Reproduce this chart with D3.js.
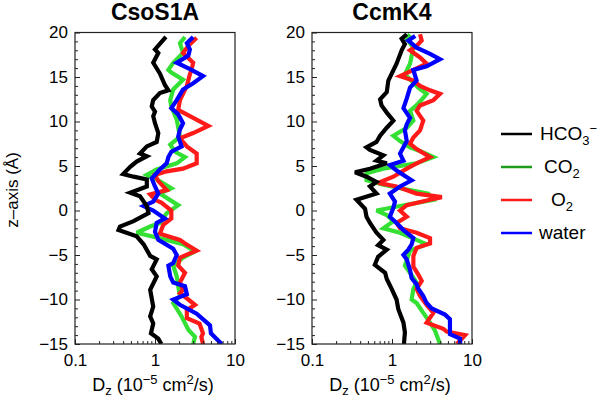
<!DOCTYPE html>
<html><head><meta charset="utf-8">
<script src="https://cdn.jsdelivr.net/npm/d3@7"></script>
<style>
html,body{margin:0;padding:0;background:#fff;}
svg{display:block;font-family:"Liberation Sans",Arial,Helvetica,sans-serif;}
</style></head>
<body>
<svg id="chart" width="600" height="402"></svg>
<script>
// ---------- data ----------
const panelTitles = ["CsoS1A", "CcmK4"];
const seriesNames = ["HCO3-", "CO2", "O2", "water"];
const xTickValues = [0.1, 1, 10];
const xTickLabels = ["0.1", "1", "10"];
const yTickValues = [-15, -10, -5, 0, 5, 10, 15, 20];

// CsoS1A
const csoHCO3_z = [19.5,18.1,17.7,17.0,16.6,15.4,14.1,13.5,13.2,12.4,11.7,11.1,10.6,9.8,8.7,7.7,7.2,6.4,6.1,5.5,4.9,4.1,3.8,3.5,2.7,2.0,1.6,0.5,-0.3,-1.2,-1.8,-2.2,-2.9,-3.8,-5.1,-5.5,-6.6,-7.4,-8.9,-10.8,-11.9,-12.7,-13.8,-14.4,-15];
const csoHCO3_D = [1.37,1.0,1.10,1.0,0.95,1.15,1.33,1.47,1.15,0.95,0.91,1.0,0.95,1.0,1.1,1.05,0.79,0.65,0.79,0.59,0.49,0.40,0.54,0.79,0.79,0.49,0.65,0.79,0.83,0.54,0.365,0.35,0.59,0.72,0.87,1.05,0.91,1.05,0.87,0.95,0.87,0.95,0.89,1.1,1.2];
const csoCO2_z = [19.5,18.8,17.7,16.6,15.8,15.5,14.7,13.6,12.4,11.7,10.2,8.3,7.4,6.6,6.0,5.3,4.6,4.0,3.4,2.5,1.9,0.6,-0.3,-1.4,-1.8,-2.5,-3.3,-3.8,-4.6,-5.3,-6.2,-7.4,-8.5,-9.6,-10.4,-11.9,-13.4,-14.2,-15];
const csoCO2_D = [2.37,2.05,2.24,1.69,1.47,1.6,2.24,1.69,1.55,1.6,1.87,2.05,1.55,1.78,2.37,1.87,1.05,0.79,1.1,1.6,1.15,1.95,1.40,1.15,0.87,0.59,1.4,2.24,3.16,2.24,1.69,1.87,1.95,2.05,1.69,2.15,2.61,3.16,3.0];
const csoO2_z = [19.4,18.5,17.7,16.6,15.8,15.3,14.0,12.4,11.3,10.6,9.5,8.7,8.1,7.2,6.4,5.3,4.7,4.4,4.0,3.3,2.3,1.8,1.2,0.9,0,-0.9,-1.6,-2.6,-3.3,-3.7,-4.5,-5.3,-6.2,-7.0,-8.1,-8.9,-9.3,-10.0,-10.6,-11.2,-12.1,-12.7,-13.8,-14.2,-15];
const csoO2_D = [3.32,2.61,2.24,3.0,2.86,2.73,2.5,2.05,1.95,2.73,4.64,3.0,2.05,2.5,3.32,3.32,2.24,1.4,1.0,1.1,1.4,0.87,1.0,1.2,1.6,1.6,1.27,1.15,2.05,2.37,3.32,2.05,1.95,2.37,2.05,2.24,2.05,2.61,3.16,2.5,2.5,3.6,3.98,3.8,3.98];
const csoWater_z = [19.5,18.8,18.1,17.4,16.6,15.8,15.1,14.3,13.6,12.4,11.5,10.8,9.8,9.1,8.3,7.2,6.6,6.0,5.3,4.6,3.6,2.7,1.9,1.0,0.5,0,-0.9,-1.4,-2.4,-3.3,-4.3,-5.0,-5.9,-6.2,-7.4,-8.1,-8.5,-9.4,-10.0,-10.6,-11.6,-12.9,-13.8,-15];
const csoWater_D = [3.0,2.5,2.73,2.61,1.87,2.86,3.98,3.0,2.24,1.87,1.6,1.95,2.24,2.05,1.95,2.15,1.6,1.47,1.40,1.15,0.91,1.0,1.1,0.95,0.72,0.95,1.33,1.05,1.0,1.1,1.69,1.87,1.69,1.47,1.55,1.69,2.37,2.5,1.69,2.05,3.32,4.87,5.0,6.8];

// CcmK4
const ccmHCO3_z = [19.8,19.3,18.7,18.0,16.5,14.6,13.3,12.5,11.8,11.0,10.1,9.3,8.4,7.7,7.1,6.8,6.2,5.6,5.3,4.7,4.3,3.8,3.2,2.7,1.9,1.2,0.2,-0.7,-1.4,-2.5,-3.3,-3.9,-4.4,-5.2,-6.1,-7.0,-7.7,-8.8,-10.0,-11.1,-12.6,-13.7,-15];
const ccmHCO3_D = [1.53,1.32,1.45,1.32,1.14,0.90,0.86,0.71,0.74,0.86,1.04,0.86,0.71,0.64,0.48,0.53,0.78,0.64,0.86,0.53,0.345,0.48,0.64,0.53,0.64,0.36,0.46,0.48,0.53,0.64,0.78,0.67,0.86,0.67,0.61,0.82,0.86,0.99,1.14,1.2,1.39,1.45,1.41];
const ccmCO2_z = [19.8,19.3,18.3,16.5,15.3,13.8,13.1,12.0,11.2,10.1,9.3,8.4,7.8,7.1,6.6,6.0,5.3,4.7,4.2,3.4,2.9,1.9,1.2,0.5,0,-0.5,-1.2,-2.0,-2.5,-3.3,-3.8,-4.5,-6.2,-7.0,-8.1,-8.8,-10.0,-10.4,-11.5,-12.6,-13.5,-15];
const ccmCO2_D = [1.68,1.53,1.85,1.68,1.45,2.13,2.71,2.13,1.68,1.85,1.53,1.04,1.26,1.68,2.35,3.29,2.03,0.78,0.48,0.48,0.78,2.84,3.29,1.26,0.64,0.86,1.04,0.78,1.26,2.03,2.71,1.68,1.45,1.68,2.03,1.85,1.76,2.03,2.46,2.99,3.45,3.98];
const ccmO2_z = [19.8,19.1,18.5,18.0,17.2,16.5,15.8,15.1,14.6,14.0,13.5,13.1,12.4,11.8,11.2,10.1,9.0,8.2,7.5,6.9,6.0,5.3,4.7,3.8,3.1,2.7,1.9,1.5,1.2,0.6,0,-0.7,-1.4,-2.0,-2.5,-3.1,-3.7,-4.2,-5.1,-6.3,-7.2,-7.9,-8.8,-9.6,-10.6,-11.5,-12.6,-13.3,-13.6,-14.0,-15];
const ccmO2_D = [2.24,2.35,2.03,1.68,2.24,2.71,1.85,1.26,1.85,2.24,2.99,3.98,3.29,2.24,2.03,2.46,2.24,1.85,1.68,2.03,2.99,2.03,1.53,1.04,0.67,1.14,2.03,4.2,2.99,1.53,1.26,1.53,1.14,1.26,2.03,2.99,2.99,2.03,1.85,1.85,2.13,2.35,2.03,2.24,2.71,3.29,2.71,4.38,4.82,8.2,6.5];
const ccmWater_z = [19.6,19.1,18.3,17.6,17.0,16.2,15.8,14.6,13.8,12.6,11.5,10.4,9.7,9.0,7.8,7.1,6.4,5.6,5.1,4.5,3.4,2.7,1.9,1.0,0.3,-0.7,-1.4,-2.2,-3.1,-3.8,-4.4,-5.0,-5.5,-6.7,-7.6,-8.3,-8.8,-9.6,-10.4,-11.0,-11.7,-12.2,-13.9,-14.4,-15];
const ccmWater_D = [1.95,1.6,2.03,2.99,3.98,2.71,1.85,2.03,1.68,1.53,1.39,1.68,1.53,1.45,1.53,1.39,1.26,1.39,0.94,1.14,1.76,1.26,0.94,1.09,1.04,0.94,1.14,1.39,1.85,1.76,1.6,1.39,1.53,1.68,1.76,2.03,2.13,2.46,2.71,3.14,4.6,5.3,5.3,7.1,7.1];

// ---------- drawing ----------
const lineColors = ["#000000", "#33e033", "#ff1a1a", "#0000ff"];
const legendColors = ["#000000", "#1b9a1b", "#ff1a1a", "#0000ff"];

const panels = [
  {title: panelTitles[0], x0: 75, series: [[csoHCO3_z, csoHCO3_D],[csoCO2_z, csoCO2_D],[csoO2_z, csoO2_D],[csoWater_z, csoWater_D]]},
  {title: panelTitles[1], x0: 312, series: [[ccmHCO3_z, ccmHCO3_D],[ccmCO2_z, ccmCO2_D],[ccmO2_z, ccmO2_D],[ccmWater_z, ccmWater_D]]}
];
const pw = 160, plotTop = 32.5, plotBottom = 344;
const svg = d3.select("#chart");

const y = d3.scaleLinear().domain([-15, 20]).range([plotBottom, plotTop]);
const minorX = [];
[0.1, 1].forEach(d => { for (let k = 2; k <= 9; k++) minorX.push(d * k); });
const minorY = d3.range(-15, 21, 1).filter(v => v % 5 !== 0);

panels.forEach(p => {
  const x = d3.scaleLog().domain([0.1, 10]).range([p.x0, p.x0 + pw]);
  const g = svg.append("g");

  const line = d3.line().x(d => x(d[1])).y(d => y(d[0])).curve(d3.curveLinear);
  const clipId = "clip" + p.x0;
  svg.append("clipPath").attr("id", clipId).append("rect")
    .attr("x", p.x0).attr("y", plotTop).attr("width", pw).attr("height", plotBottom - plotTop);
  [1, 2, 3, 0].forEach(i => {
    const [zs, ds] = p.series[i];
    const pts = zs.map((z, j) => [z, ds[j]]);
    g.append("path").attr("d", line(pts)).attr("fill", "none")
      .attr("stroke", lineColors[i]).attr("stroke-width", 4.2)
      .attr("stroke-linejoin", "miter").attr("stroke-miterlimit", 3)
      .attr("clip-path", `url(#${clipId})`);
  });

  // frame
  g.append("rect").attr("x", p.x0).attr("y", plotTop).attr("width", pw).attr("height", plotBottom - plotTop)
    .attr("fill", "none").attr("stroke", "#222").attr("stroke-width", 1.2);

  // y axis major
  const ya = g.append("g").attr("transform", `translate(${p.x0},0)`)
    .call(d3.axisLeft(y).tickValues(yTickValues).tickSize(-5).tickPadding(7).tickFormat(d3.format("d")));
  ya.select(".domain").remove();
  ya.selectAll("text").attr("font-size", 17).attr("fill", "#000").attr("font-family", "Liberation Sans, Arial, sans-serif");
  ya.selectAll("line").attr("stroke", "#222");
  const ym = g.append("g").attr("transform", `translate(${p.x0},0)`)
    .call(d3.axisLeft(y).tickValues(minorY).tickSize(-3).tickFormat(""));
  ym.select(".domain").remove();
  ym.selectAll("line").attr("stroke", "#222");

  // x axis major
  const xa = g.append("g").attr("transform", `translate(0,${plotBottom})`)
    .call(d3.axisBottom(x).tickValues(xTickValues).tickSize(-5).tickPadding(10)
      .tickFormat((d, i) => xTickLabels[i]));
  xa.select(".domain").remove();
  xa.selectAll("text").attr("font-size", 17).attr("fill", "#000").attr("font-family", "Liberation Sans, Arial, sans-serif");
  xa.selectAll("line").attr("stroke", "#222");
  const xm = g.append("g").attr("transform", `translate(0,${plotBottom})`)
    .call(d3.axisBottom(x).tickValues(minorX).tickSize(-3).tickFormat(""));
  xm.select(".domain").remove();
  xm.selectAll("line").attr("stroke", "#222");

  // title
  g.append("text").attr("x", p.x0 + pw / 2).attr("y", 20).attr("text-anchor", "middle")
    .attr("font-size", 23).attr("font-weight", "bold").text(p.title);

  // x label
  const xl = g.append("text").attr("x", p.x0 + pw / 2 - 2).attr("y", 391).attr("text-anchor", "middle")
    .attr("font-size", 18);
  xl.append("tspan").text("D");
  xl.append("tspan").attr("font-size", 13).attr("dy", 4).text("z");
  xl.append("tspan").attr("dy", -4).text(" (10");
  xl.append("tspan").attr("font-size", 13).attr("dy", -7).text("−5");
  xl.append("tspan").attr("dy", 7).text(" cm");
  xl.append("tspan").attr("font-size", 13).attr("dy", -7).text("2");
  xl.append("tspan").attr("dy", 7).text("/s)");
});

// y label
svg.append("text").attr("transform", "translate(18,190) rotate(-90)").attr("text-anchor", "middle")
  .attr("font-size", 17).text("z–axis (Å)");

// legend
const legY = [134, 167, 200, 233];
const leg = svg.append("g");
seriesNames.forEach((name, i) => {
  leg.append("line").attr("x1", 501).attr("x2", 532).attr("y1", legY[i]).attr("y2", legY[i])
    .attr("stroke", legendColors[i]).attr("stroke-width", 2.5);
  const t = leg.append("text").attr("y", legY[i] + 6).attr("font-size", 19);
  if (i === 0) {
    t.attr("x", 540);
    t.append("tspan").text("HCO");
    t.append("tspan").attr("font-size", 13).attr("dy", 5).text("3");
    t.append("tspan").attr("font-size", 13).attr("dy", -12).text("−");
  } else if (i === 1) {
    t.attr("x", 544);
    t.append("tspan").text("CO");
    t.append("tspan").attr("font-size", 13).attr("dy", 5).text("2");
  } else if (i === 2) {
    t.attr("x", 551);
    t.append("tspan").text("O");
    t.append("tspan").attr("font-size", 13).attr("dy", 5).text("2");
  } else {
    t.attr("x", 539).text("water");
  }
});
</script>
</body></html>
